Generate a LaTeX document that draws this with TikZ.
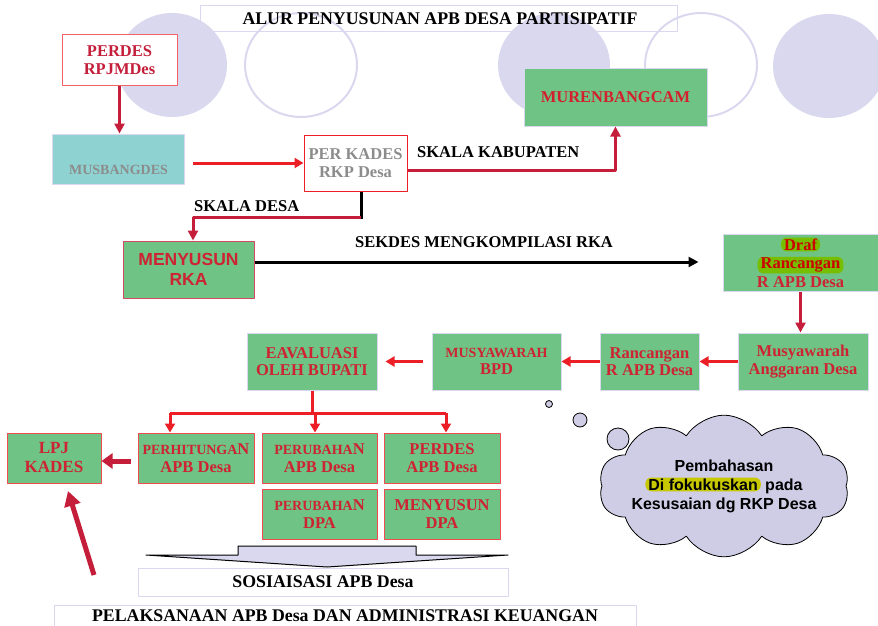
\documentclass[tikz,border=0pt]{standalone}
\usepackage{fontspec}
\setmainfont{Liberation Serif}
\newfontfamily\arialfont{Liberation Sans}
\usetikzlibrary{arrows.meta,shapes.symbols}
\definecolor{lav}{RGB}{217,216,238}
\definecolor{cloudfill}{RGB}{207,204,230}
\definecolor{boxgreen}{RGB}{111,195,132}
\definecolor{teal}{RGB}{142,211,209}
\definecolor{crim}{RGB}{196,30,58}
\definecolor{brightred}{RGB}{236,30,38}
\definecolor{txtred}{RGB}{205,35,50}
\definecolor{txtgray}{RGB}{140,140,140}
\definecolor{hlgreen}{RGB}{120,190,0}
\definecolor{hlyellow}{RGB}{200,200,0}
\newcommand{\fsbig}{\fontsize{16.5}{17.5}\selectfont}
\newcommand{\fssmall}{\fontsize{14}{17.5}\selectfont}
\newcommand{\fscap}{\fontsize{17.8}{19}\selectfont}
\newcommand{\hilite}[2]{\tikz[baseline=(hl.base)]\node[shape=rectangle, draw=none, fill=#1, minimum width=0pt, minimum height=0pt, rounded corners=6pt, inner xsep=3pt, inner ysep=1pt, line width=0pt](hl){#2};}
\tikzset{>=latex,
  box/.style={draw=lav, fill=boxgreen, text=txtred, align=center, inner sep=0pt, line width=1pt, font=\bfseries\fsbig},
  redbox/.style={box, draw=brightred!80},
  plainbox/.style={box, fill=white},
  crimarr/.style={crim, line width=3pt, -{Triangle[length=10pt,width=10pt]}},
  redarr/.style={brightred, line width=3pt, -{Triangle[length=9pt,width=10pt]}},
  blackarr/.style={black, line width=3pt, -{Triangle[length=10pt,width=10pt]}},
  caption/.style={font=\bfseries\fsbig, inner sep=0pt, anchor=base west},
  bubble/.style={draw=black, fill=cloudfill, line width=0.8pt}
}
\begin{document}
\begin{tikzpicture}[x=1pt, y=-1pt, line join=round]
    \useasboundingbox (0,0) rectangle (878,626);
    % background discs
    \draw[lav, line width=1pt] (200,6) rectangle (677,32);
    \fill[lav] (172,65) ellipse (55 and 52) (554,65) ellipse (56 and 52) (829,66) ellipse (56 and 52);
    \draw[lav, line width=2pt] (301,65) ellipse (56 and 52) (701,65) ellipse (56 and 52);
    \node[caption, font=\bfseries\fscap, anchor=base] (title) at (440,25) {ALUR PENYUSUNAN APB DESA PARTISIPATIF};

    % top part
    \node[plainbox, draw=brightred!70, text=crim, minimum width=115pt, minimum height=50pt] (perdes) at (119.5,60) {PERDES\\RPJMDes};
    \node[box, fill=teal, text=txtgray, font=\bfseries\fssmall, minimum width=132pt, minimum height=50pt] (musbang) at (118.5,159) {\rule{0pt}{13pt}\\MUSBANGDES};
    \node[plainbox, draw=brightred, text=txtgray, minimum width=103pt, minimum height=56pt] (perkades) at (355.5,163) {PER KADES\\RKP Desa};
    \node[box, text=txtred!90!red, minimum width=183pt, minimum height=57pt] (murenbang) at (615.5,97.5) {MURENBANGCAM};
    \node[box, draw=crim!80, font=\bfseries\arialfont\fontsize{17.5}{20}\selectfont, minimum width=131pt, minimum height=57pt] (menyusun) at (188.5,269.5) {MENYUSUN\\RKA};
    \node[box, text=red!80!black, font=\bfseries\fontsize{16.5}{18.5}\selectfont, minimum width=155pt, minimum height=57pt] (draf) at (800.5,262.5) {\hilite{hlgreen}{Draf}\\\hilite{hlgreen}{Rancangan}\\{\color{txtred}R APB Desa}};

    \draw[crimarr] (perdes.south) -- (perdes.south |- musbang.north);
    \draw[redarr, shorten <=8pt] (musbang.east |- perkades.west) -- (perkades.west);
    \draw[crimarr] ([yshift=-7pt]perkades.east) -| (murenbang.south);
    \node[caption] (kab) at (417,157) {SKALA KABUPATEN};
    \coordinate (skbend) at (361,219);
    \draw[black, line width=3pt] ([xshift=5.5pt]perkades.south) -- (skbend);
    \draw[crimarr] ([yshift=1.5pt]skbend) -| ([xshift=4.5pt]menyusun.north);
    \node[caption] (desa) at (194,211) {SKALA DESA};
    \draw[blackarr, shorten >=24pt] ([yshift=7.5pt]menyusun.east) -- ([yshift=7.5pt]menyusun.east -| draf.west);
    \node[caption] (sekdes) at (355,247) {SEKDES MENGKOMPILASI RKA};

    % middle row
    \node[box, minimum width=130pt, minimum height=57pt] (musang) at (803,361.5) {Musyawarah\\Anggaran Desa};
    \node[box, minimum width=99pt, minimum height=57pt] (rancang) at (649.5,361.5) {Rancangan\\R APB Desa};
    \node[box, minimum width=129pt, minimum height=57pt] (bpd) at (496.5,361.5) {{\fssmall MUSYAWARAH}\\BPD};
    \node[box, minimum width=130pt, minimum height=57pt] (eval) at (312,361.5) {EAVALUASI\\OLEH BUPATI};
    \draw[crimarr] (draf.south) -- (draf.south |- musang.north);
    \draw[redarr] (musang.west) -- (rancang.east);
    \draw[redarr] (rancang.west) -- (bpd.east);
    \draw[redarr, shorten <=9pt, shorten >=8pt] (bpd.west) -- (eval.east);

    % bottom boxes
    \node[redbox, minimum width=116pt, minimum height=50pt] (perhit) at (196,458) {{\fssmall PERHITUNGA}N\\APB Desa};
    \node[redbox, minimum width=115pt, minimum height=50pt] (perubapb) at (319.5,458) {{\fssmall PERUBAHA}N\\APB Desa};
    \node[redbox, minimum width=116pt, minimum height=50pt] (perdesapb) at (442,458) {PERDES\\APB Desa};
    \node[redbox, minimum width=115pt, minimum height=50pt] (perubdpa) at (319.5,514) {{\fssmall PERUBAHA}N\\DPA};
    \node[redbox, minimum width=116pt, minimum height=50pt] (menydpa) at (442,514) {MENYUSUN\\DPA};
    \node[redbox, font=\bfseries\fontsize{17}{19}\selectfont, minimum width=94pt, minimum height=50pt] (lpj) at (54,458) {LPJ\\KADES};

    \coordinate (forkL) at (170,413);
    \coordinate (forkR) at (446,413);
    \draw[brightred, line width=3pt] (eval.south) -- (eval.south |- forkL);
    \draw[brightred, line width=3pt] (forkL) -- (forkR);
    \draw[redarr] (forkL) -- (forkL |- perhit.north);
    \draw[redarr] ([xshift=-4.5pt]perubapb.north |- forkL) -- ([xshift=-4.5pt]perubapb.north);
    \draw[redarr] (forkR) -- (forkR |- perdesapb.north);
    \draw[crim, line width=5pt, -{Triangle[length=11pt,width=15pt]}, shorten <=7pt] ([yshift=-3pt]perhit.west) -- ([yshift=-3pt]lpj.east);
    \coordinate (pelaktail) at (94,575);
    \coordinate (lpjin) at (68,491);
    \draw[crim, line width=5pt, -{Triangle[length=15pt,width=16pt]}] (pelaktail) -- (lpjin);

    % sosialisasi
    \draw[fill=lav, line width=1pt] (146,555) -- (238,555) -- (238,546) -- (416,546) -- (416,555) -- (508,555) -- (327,567) -- cycle;
    \node[plainbox, text=black, font=\bfseries\fscap, minimum width=370pt, minimum height=28pt] (sosial) at (323,582) {SOSIAISASI APB Desa};
    \node[plainbox, text=black, font=\bfseries\fscap, minimum width=582pt, minimum height=22pt] (pelak) at (345,616) {PELAKSANAAN APB Desa DAN ADMINISTRASI KEUANGAN};

    % thought cloud
    \node[bubble, cloud, cloud puffs=10, cloud puff arc=115, aspect=2.1, minimum width=250pt, minimum height=135pt, inner xsep=-12pt, inner ysep=-6pt, align=center, font=\bfseries\arialfont\fontsize{16}{19}\selectfont] (cloud) at (724,486) {Pembahasan\\\hilite{hlyellow}{Di fokukuskan} pada\\Kesusaian dg RKP Desa};
    \draw[bubble] (549,404) circle (3.5) (580,420) circle (7) (618,439) circle (11);
\end{tikzpicture}
\end{document}
